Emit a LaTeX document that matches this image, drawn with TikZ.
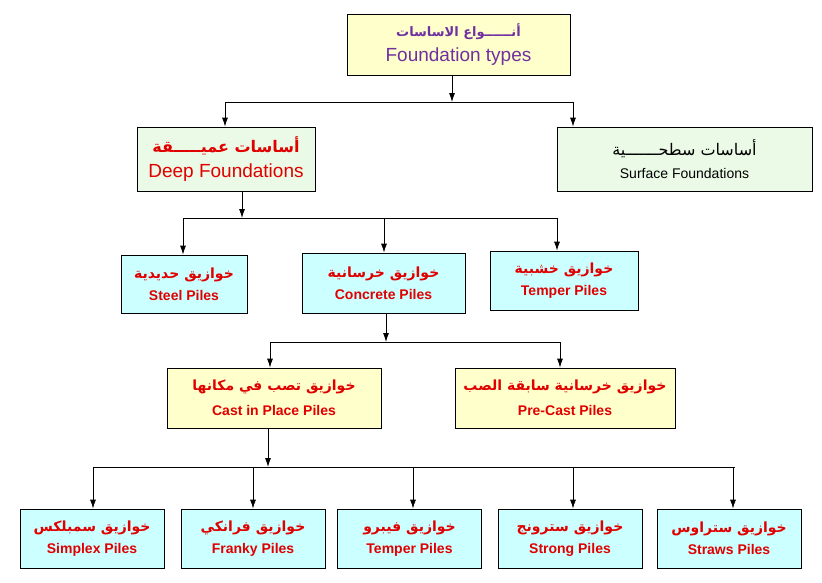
\documentclass[tikz,border=0pt]{standalone}
\usepackage{fontspec}
\setmainfont{Liberation Sans}
\newfontfamily\arabicfont[Script=Arabic]{DejaVu Sans}
\TeXXeTstate=1
\usepackage{tikz}
\usetikzlibrary{calc,positioning,arrows.meta}
\definecolor{boxyellow}{HTML}{FFFFCC}
\definecolor{boxgreen}{HTML}{EBFAE6}
\definecolor{boxcyan}{HTML}{CCFFFF}
\definecolor{darkred}{HTML}{E00000}
\definecolor{titlepurple}{HTML}{7030A0}
\newcommand{\ar}[1]{{\arabicfont\beginR #1\endR}}
\tikzset{
  box/.style={draw, line width=0.8pt, inner sep=0pt, align=center},
  pilebox/.style={box, fill=boxcyan, text=darkred, font=\bfseries\fontsize{14}{22}\selectfont},
  castbox/.style={box, fill=boxyellow, text=darkred, font=\bfseries\fontsize{14}{25}\selectfont},
  feed/.style={-{Latex[length=9pt,width=6pt]}, line width=0.8pt},
  bus/.style={line width=0.8pt}
}
\begin{document}
\begin{tikzpicture}[x=1pt,y=-1pt]
  \useasboundingbox (0,0) rectangle (822,582);
    % level 0
    \node[box, fill=boxyellow, minimum width=223pt, minimum height=61pt] (types) at (458.5,44.5)
      {{\color{titlepurple}\bfseries\fontsize{13}{15}\selectfont\ar{أنــــــواع الاساسات}}\\[7pt]
       {\color{titlepurple}\fontsize{19}{22}\selectfont Foundation types}};
    % level 1
    \node[box, fill=boxgreen, minimum width=178pt, minimum height=64pt] (deep) at (226,159)
      {{\color{darkred}\bfseries\fontsize{16}{18}\selectfont\ar{أساسات عميـــــقة}}\\[7pt]
       {\color{darkred}\fontsize{19}{22}\selectfont Deep Foundations}};
    \node[box, fill=boxgreen, minimum width=255pt, minimum height=64pt] (surface) at (684.5,159)
      {{\fontsize{16}{18}\selectfont\ar{أساسات سطحـــــــية}}\\[9pt]
       {\fontsize{14}{16}\selectfont Surface Foundations}};
    % level 2
    \node[pilebox, minimum width=126pt, minimum height=58pt] (steel) at (184,284)
      {\ar{خوازيق حديدية}\\Steel Piles};
    \node[pilebox, minimum width=163pt, minimum height=60pt] (concrete) at (383.5,283)
      {\ar{خوازيق خرسانية}\\Concrete Piles};
    \node[pilebox, minimum width=148pt, minimum height=59pt] (timber) at (564,280.5)
      {\ar{خوازيق خشبية}\\Temper Piles};
    % level 3
    \node[castbox, minimum width=214pt, minimum height=60pt] (cast) at (274,398)
      {\ar{خوازيق تصب في مكانها}\\Cast in Place Piles};
    \node[castbox, minimum width=220pt, minimum height=60pt] (precast) at (565,398)
      {\ar{خوازيق خرسانية سابقة الصب}\\Pre-Cast Piles};
    % level 4
    \foreach \name/\xc/\arb/\eng in {
        simplex/92/خوازيق سمبلكس/Simplex Piles,
        franky/253/خوازيق فرانكي/Franky Piles,
        fibro/409.5/خوازيق فيبرو/Temper Piles,
        strong/570/خوازيق سترونج/Strong Piles,
        straws/729/خوازيق ستراوس/Straws Piles}
      \node[pilebox, minimum width=144pt, minimum height=59pt] (\name) at (\xc,538.5)
        {\ar{\arb}\\\eng};
    % connectors
    \coordinate (busA) at (452,102);
    \draw[feed] (types.south -| busA) -- (busA);
    \draw[bus] (225,102) -- (573,102);
    \draw[feed] (225,102) -- (deep.north -| 225,0);
    \draw[feed] (573,102) -- (surface.north -| 573,0);
    \coordinate (busB) at (242,218);
    \draw[feed] (deep.south -| busB) -- (busB);
    \draw[bus] (183,218) -- (558,218);
    \draw[feed] (183,218) -- (steel.north -| 183,0);
    \draw[feed] (384,218) -- (concrete.north -| 384,0);
    \draw[feed] (557,218) -- (timber.north -| 557,0);
    \coordinate (busC) at (386,342);
    \draw[feed] (concrete.south -| busC) -- (busC);
    \draw[bus] (270,342) -- (560,342);
    \draw[feed] (270,342) -- (cast.north -| 270,0);
    \draw[feed] (560,342) -- (precast.north -| 560,0);
    \coordinate (busD) at (268,467);
    \draw[feed] (cast.south -| busD) -- (busD);
    \draw[bus] (93,467) -- (735,467);
    \foreach \name/\xc in {simplex/93,franky/253,fibro/413,strong/573,straws/733}
      \draw[feed] (\xc,467) -- (\name.north -| \xc,0);
\end{tikzpicture}
\end{document}
